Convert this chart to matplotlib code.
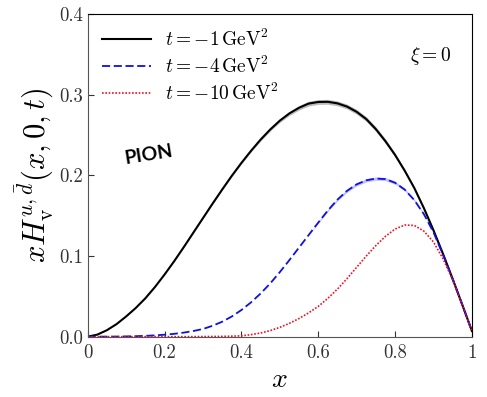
import numpy as np
import matplotlib
matplotlib.use("Agg")
import matplotlib.pyplot as plt

plt.rcParams["mathtext.fontset"] = "cm"
plt.rcParams["font.family"] = "serif"
plt.rcParams["font.serif"] = ["cmr10", "DejaVu Serif"]
plt.rcParams["axes.formatter.use_mathtext"] = True

# momentum fraction grid and valence GPD curves for the three t values
x_vals = [0.0, 0.025, 0.05, 0.075, 0.1, 0.125, 0.15, 0.175, 0.2, 0.225,
          0.25, 0.275, 0.3, 0.325, 0.35, 0.375, 0.4, 0.425, 0.45, 0.475,
          0.5, 0.525, 0.55, 0.575, 0.6, 0.625, 0.65, 0.675, 0.7, 0.725,
          0.75, 0.775, 0.8, 0.825, 0.85, 0.875, 0.9, 0.925, 0.95, 0.975, 1.0]

h_t1 = [0.0, 0.0025, 0.008, 0.0155, 0.025, 0.0355, 0.0475, 0.0615, 0.077, 0.0935,
        0.111, 0.129, 0.147, 0.165, 0.1825, 0.1995, 0.2155, 0.2305, 0.2445, 0.257,
        0.268, 0.277, 0.284, 0.2892, 0.2912, 0.2914, 0.2895, 0.2855, 0.279, 0.270,
        0.2575, 0.2425, 0.2255, 0.206, 0.1845, 0.1595, 0.132, 0.1025, 0.0715, 0.0395, 0.007]

h_t4 = [0.0, 0.0, 0.0, 0.0001, 0.0003, 0.0006, 0.001, 0.0016, 0.0024, 0.0035,
        0.005, 0.007, 0.0095, 0.0135, 0.0185, 0.025, 0.033, 0.0425, 0.0535, 0.066,
        0.080, 0.095, 0.1105, 0.126, 0.1415, 0.1565, 0.170, 0.181, 0.189, 0.194,
        0.1962, 0.1955, 0.191, 0.1825, 0.1695, 0.152, 0.1295, 0.1015, 0.0715, 0.0395, 0.007]

h_t10 = [0.0, 0.0, 0.0, 0.0, 0.0, 0.0, 0.0, 0.0, 0.0, 0.0,
         0.0, 0.0, 0.0001, 0.0002, 0.0003, 0.0006, 0.001, 0.0025, 0.0045, 0.0075,
         0.0115, 0.0165, 0.0225, 0.0295, 0.0375, 0.0475, 0.059, 0.072, 0.086, 0.100,
         0.113, 0.1245, 0.1335, 0.1385, 0.138, 0.131, 0.1175, 0.0965, 0.0705, 0.0395, 0.007]

# half-width of the uncertainty bands
err_t1 = [0.0, 0.0, 0.0, 0.0, 0.0, 0.0, 0.0, 0.0, 0.0, 0.0,
          0.0005, 0.0005, 0.0005, 0.0008, 0.001, 0.001, 0.0012, 0.0015, 0.0018, 0.002,
          0.0022, 0.0025, 0.0028, 0.003, 0.003, 0.003, 0.003, 0.003, 0.003, 0.003,
          0.003, 0.0028, 0.0025, 0.0022, 0.002, 0.0018, 0.0015, 0.001, 0.0008, 0.0005, 0.0]
err_t4 = [0.0] * 24 + [0.001, 0.0012, 0.0015, 0.0018, 0.002, 0.002, 0.002,
                       0.002, 0.0018, 0.0015, 0.0012, 0.001, 0.0008, 0.0005, 0.0, 0.0, 0.0]

x_ticks = [0, 0.2, 0.4, 0.6, 0.8, 1.0]
x_ticklabels = ["0", "0.2", "0.4", "0.6", "0.8", "1"]
y_ticks = [0.0, 0.1, 0.2, 0.3, 0.4]
y_ticklabels = ["0.0", "0.1", "0.2", "0.3", "0.4"]

x = np.array(x_vals)

fig = plt.figure(figsize=(4.87, 3.97), dpi=100)
ax = fig.add_axes([0.180, 0.152, 0.789, 0.812])

ax.fill_between(x, np.array(h_t1) - err_t1, np.array(h_t1) + err_t1,
                color="0.55", alpha=0.6, lw=0)
ax.fill_between(x, np.array(h_t4) - err_t4, np.array(h_t4) + err_t4,
                color="#8080ff", alpha=0.5, lw=0)

ax.plot(x, h_t1, color="black", lw=1.5, label=r"$t=-1\,\mathrm{GeV}^2$")
ax.plot(x, h_t4, color="#1010e0", lw=1.3, ls=(0, (4.5, 2)),
        label=r"$t=-4\,\mathrm{GeV}^2$")
ax.plot(x, h_t10, color="#ee1122", lw=1.2, ls=(0, (1, 1)),
        label=r"$t=-10\,\mathrm{GeV}^2$")

ax.set_xlim(0, 1)
ax.set_ylim(0, 0.4)
ax.set_xticks(x_ticks)
ax.set_xticklabels(x_ticklabels)
ax.set_yticks(y_ticks)
ax.set_yticklabels(y_ticklabels)
ax.tick_params(direction="in", length=4, width=0.8, labelsize=13.5,
               colors="#333333")
ax.tick_params(axis="x", pad=5)
ax.tick_params(axis="y", pad=3)

for side in ("left", "bottom"):
    ax.spines[side].set_color("#555555")
for side in ("top", "right"):
    ax.spines[side].set_color("black")

ax.set_xlabel(r"$x$", fontsize=20, labelpad=4)
ax.set_ylabel(r"$xH_{\rm v}^{u,\bar{d}}(x,0,t)$", fontsize=22, labelpad=3)

leg = ax.legend(loc="upper left", frameon=False, fontsize=14,
                handlelength=2.5, handletextpad=0.75, labelspacing=0.3,
                borderaxespad=0.35)

ax.text(0.84, 0.87, r"$\xi = 0$", transform=ax.transAxes, fontsize=14,
        ha="left", va="center")
ax.text(0.092, 0.565, "PION", transform=ax.transAxes, fontsize=14,
        fontweight="bold", family=["Lato", "DejaVu Sans"], rotation=9,
        ha="left", va="center")

fig.savefig("out.png", dpi=100)
